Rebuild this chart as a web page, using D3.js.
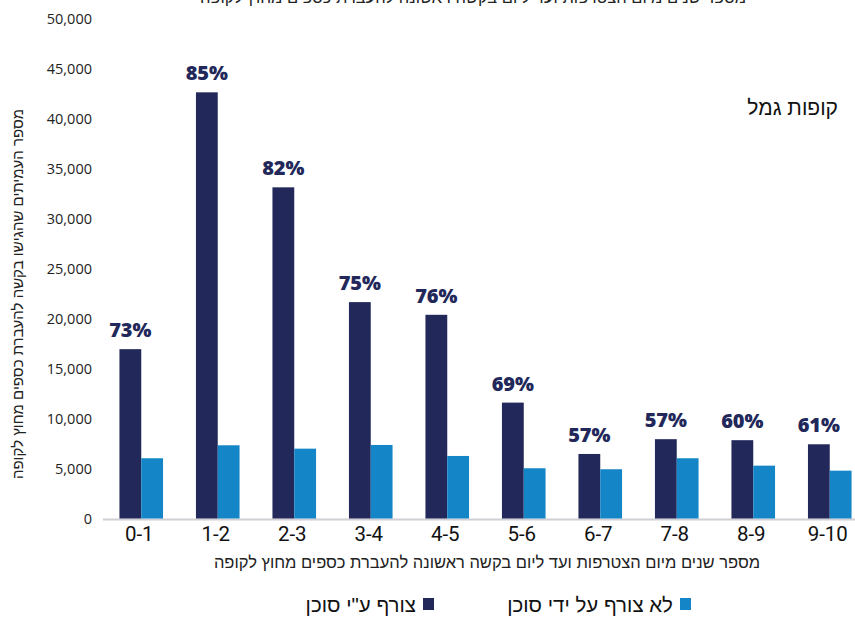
<!DOCTYPE html>
<html lang="he">
<head>
<meta charset="utf-8">
<script src="https://cdn.jsdelivr.net/npm/d3@7"></script>
<style>
  html, body { margin: 0; padding: 0; background: #fff; }
  svg { display: block; }
</style>
</head>
<body>
<script>
// Years from joining until first transfer request
const categories = ["0-1", "1-2", "2-3", "3-4", "4-5", "5-6", "6-7", "7-8", "8-9", "9-10"];
// Members attached by an agent
const viaAgent = [16950, 42660, 33150, 21660, 20390, 11600, 6460, 7940, 7840, 7430];
// Members not attached by an agent
const noAgent = [6030, 7330, 6990, 7360, 6260, 5030, 4930, 6030, 5290, 4790];
// Share attached by an agent, shown above each dark bar
const shareLabels = ["73%", "85%", "82%", "75%", "76%", "69%", "57%", "57%", "60%", "61%"];
const yTicks = [0, 5000, 10000, 15000, 20000, 25000, 30000, 35000, 40000, 45000, 50000];

const seriesNames = ["צורף ע\"י סוכן", "לא צורף על ידי סוכן"];
const xTitle = "מספר שנים מיום הצטרפות ועד ליום בקשה ראשונה להעברת כספים מחוץ לקופה";
const yTitle = "מספר העמיתים שהגישו בקשה להעברת כספים מחוץ לקופה";
const panelTitle = "קופות גמל";

const W = 855, H = 619;
const DARK = "#22285a", LIGHT = "#1485c6";
const hebFont = "'Liberation Sans', 'DejaVu Sans', sans-serif";
const numFont = "'Open Sans', 'Noto Sans', sans-serif";

const svg = d3.select("body").append("svg").attr("width", W).attr("height", H);

const x = d3.scaleBand().domain(categories).range([103, 868]).paddingInner(0.43).paddingOuter(0.215);
const sub = d3.scaleBand().domain([0, 1]).range([0, x.bandwidth()]);
const y = d3.scaleLinear().domain([0, 50000]).range([518.5, 19]);

// Y axis tick labels
const yAxis = d3.axisLeft(y).tickValues(yTicks).tickSize(0).tickPadding(0)
  .tickFormat(d3.format(","));
svg.append("g").attr("transform", "translate(92,0)").call(yAxis)
  .call(g => g.select(".domain").remove())
  .selectAll("text")
  .attr("font-family", numFont).attr("font-size", 14.5).attr("fill", "#222");

// Baseline
svg.append("line").attr("x1", 103).attr("x2", W).attr("y1", 519.5).attr("y2", 519.5)
  .attr("stroke", "#cfcfd4").attr("stroke-width", 2);

// Bars
const groups = svg.append("g").selectAll("g").data(categories).join("g")
  .attr("transform", d => `translate(${x(d)},0)`);
groups.append("rect")
  .attr("x", sub(0)).attr("width", sub.bandwidth())
  .attr("y", (d, i) => y(viaAgent[i])).attr("height", (d, i) => y(0) - y(viaAgent[i]))
  .attr("fill", DARK);
groups.append("rect")
  .attr("x", sub(1)).attr("width", sub.bandwidth())
  .attr("y", (d, i) => y(noAgent[i])).attr("height", (d, i) => y(0) - y(noAgent[i]))
  .attr("fill", LIGHT);
groups.append("text")
  .attr("x", sub(0) + sub.bandwidth() / 2)
  .attr("y", (d, i) => y(viaAgent[i]) - 12)
  .attr("text-anchor", "middle")
  .attr("font-family", "'Open Sans', Lato, sans-serif").attr("font-weight", 800)
  .attr("font-size", 20).attr("fill", DARK)
  .text((d, i) => shareLabels[i]);

// X axis tick labels
const xAxis = d3.axisBottom(x).tickSize(0).tickPadding(0);
svg.append("g").attr("transform", "translate(-2,526)").call(xAxis)
  .call(g => g.select(".domain").remove())
  .selectAll("text")
  .attr("font-family", "Roboto, sans-serif")
  .attr("font-size", 20.5).attr("fill", "#111");

// Axis titles
svg.append("text").attr("x", 487).attr("y", 568).attr("text-anchor", "middle")
  .attr("direction", "rtl").attr("font-family", hebFont).attr("font-size", 16.5).attr("fill", "#222")
  .text(xTitle);
svg.append("text").attr("x", 473).attr("y", 3).attr("text-anchor", "middle")
  .attr("direction", "rtl").attr("font-family", hebFont).attr("font-size", 16.5).attr("fill", "#222")
  .text(xTitle);
svg.append("text").attr("transform", "translate(23,294) rotate(-90)").attr("text-anchor", "middle")
  .attr("direction", "rtl").attr("font-family", hebFont).attr("font-size", 15).attr("fill", "#222")
  .text(yTitle);

// Panel title
svg.append("text").attr("x", 838).attr("y", 115).attr("text-anchor", "end")
  .attr("font-family", hebFont).attr("font-size", 21).attr("fill", "#111")
  .text(panelTitle);

// Legend
const legend = [
  { name: seriesNames[0], color: DARK, x: 434 },
  { name: seriesNames[1], color: LIGHT, x: 691 }
];
const lg = svg.append("g").selectAll("g").data(legend).join("g");
lg.append("rect").attr("x", d => d.x - 11).attr("y", 598).attr("width", 11).attr("height", 12)
  .attr("fill", d => d.color);
lg.append("text").attr("x", d => d.x - 18).attr("y", 612).attr("text-anchor", "start")
  .attr("direction", "rtl").attr("font-family", hebFont).attr("font-size", 20.5).attr("fill", "#111")
  .text(d => d.name);
</script>
</body>
</html>
